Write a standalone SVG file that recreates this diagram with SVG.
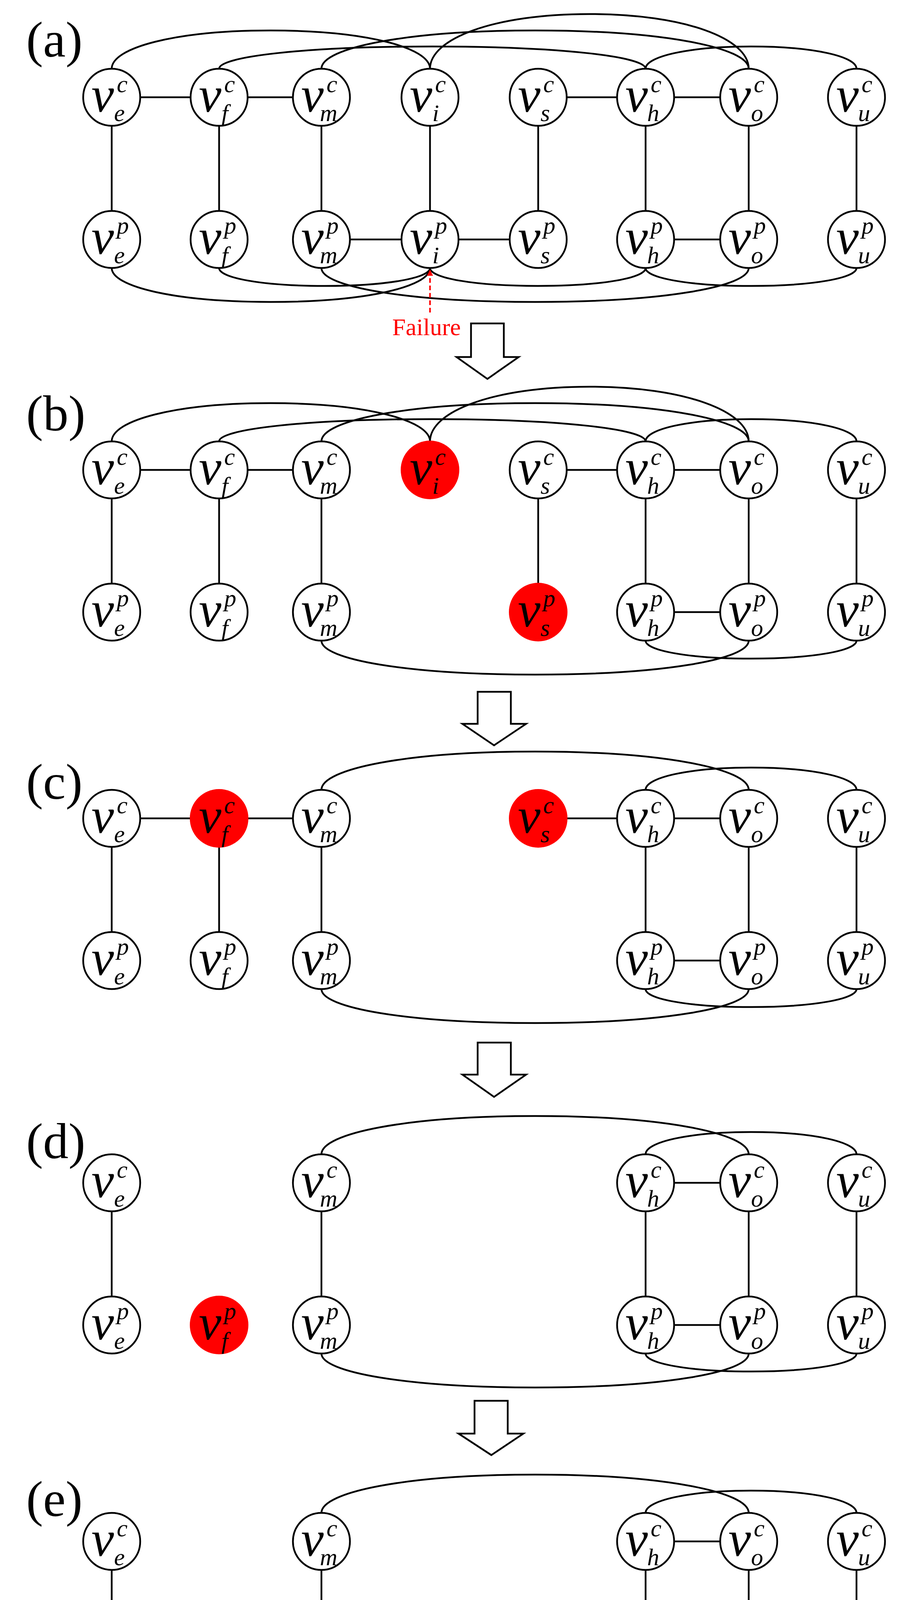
<svg xmlns="http://www.w3.org/2000/svg" width="2330" height="4511" viewBox="0 0 2330 4511">
<style>
.node circle{fill:#fff;stroke:#000;stroke-width:4.5}
.node.red circle{fill:#f00;stroke:none}
.v{font-family:"Liberation Serif",serif;font-style:italic;font-size:130px;fill:#000}
.s{font-family:"Liberation Serif",serif;font-style:italic;font-size:62px;fill:#000}
.lbl{font-family:"Liberation Serif",serif;font-size:130px;fill:#000}
.e{fill:none;stroke:#000;stroke-width:4.5}
.blk{fill:#fff;stroke:#000;stroke-width:4.5;stroke-linejoin:miter}
</style>
<defs>
<marker id="ah" viewBox="0 0 10 10" refX="9" refY="5" markerWidth="4" markerHeight="4" orient="auto" markerUnits="strokeWidth"><path d="M0,0 L10,5 L0,10 Z" fill="#f00"/></marker>
</defs>
<rect width="2330" height="4511" fill="#fff"/>

<g id="labels">
<text class="lbl" x="67" y="145">(a)</text>
<text class="lbl" x="67" y="1102">(b)</text>
<text class="lbl" x="67" y="2045">(c)</text>
<text class="lbl" x="67" y="2965">(d)</text>
<text class="lbl" x="67" y="3881">(e)</text>
</g>

<g id="connectors">
<g id="conn-a">
<line class="e" x1="359" y1="249" x2="488" y2="249"/><line class="e" x1="634" y1="249" x2="750" y2="249"/><line class="e" x1="1451" y1="249" x2="1580" y2="249"/><line class="e" x1="1726" y1="249" x2="1844" y2="249"/>
<line class="e" x1="896" y1="613" x2="1028" y2="613"/><line class="e" x1="1174" y1="613" x2="1305" y2="613"/><line class="e" x1="1726" y1="613" x2="1844" y2="613"/>
<line class="e" x1="286" y1="322" x2="286" y2="540"/><line class="e" x1="561" y1="322" x2="561" y2="540"/><line class="e" x1="823" y1="322" x2="823" y2="540"/><line class="e" x1="1101" y1="322" x2="1101" y2="540"/><line class="e" x1="1378" y1="322" x2="1378" y2="540"/><line class="e" x1="1653" y1="322" x2="1653" y2="540"/><line class="e" x1="1917" y1="322" x2="1917" y2="540"/><line class="e" x1="2193" y1="322" x2="2193" y2="540"/>
<path class="e" d="M286 176 C286 122 449 78 693 78 S1101 122 1101 176"/>
<path class="e" d="M561 176 C561 145 779 119 1107 119 S1653 145 1653 176"/>
<path class="e" d="M823 176 C823 122 1042 78 1370 78 S1917 122 1917 176"/>
<path class="e" d="M1101 176 C1101 99 1264 36 1509 36 S1917 99 1917 176"/>
<path class="e" d="M1653 176 C1653 145 1761 119 1923 119 S2193 145 2193 176"/>
<path class="e" d="M286 686 C286 734 449 773 693 773 S1101 734 1101 686"/>
<path class="e" d="M561 686 C561 711 669 732 831 732 S1101 711 1101 686"/>
<path class="e" d="M823 686 C823 734 1042 773 1370 773 S1917 734 1917 686"/>
<path class="e" d="M1101 686 C1101 711 1211 732 1377 732 S1653 711 1653 686"/>
<path class="e" d="M1653 686 C1653 711 1761 732 1923 732 S2193 711 2193 686"/>
<line x1="1101" y1="800" x2="1101" y2="692" stroke="#f00" stroke-width="4" stroke-dasharray="12 7" marker-end="url(#ah)"/>
</g>
<g id="conn-b" transform="translate(0,954)">
<line class="e" x1="359" y1="249" x2="488" y2="249"/><line class="e" x1="634" y1="249" x2="750" y2="249"/><line class="e" x1="1451" y1="249" x2="1580" y2="249"/><line class="e" x1="1726" y1="249" x2="1844" y2="249"/>
<line class="e" x1="1726" y1="613" x2="1844" y2="613"/>
<line class="e" x1="286" y1="322" x2="286" y2="540"/><line class="e" x1="561" y1="322" x2="561" y2="540"/><line class="e" x1="823" y1="322" x2="823" y2="540"/><line class="e" x1="1378" y1="322" x2="1378" y2="540"/><line class="e" x1="1653" y1="322" x2="1653" y2="540"/><line class="e" x1="1917" y1="322" x2="1917" y2="540"/><line class="e" x1="2193" y1="322" x2="2193" y2="540"/>
<path class="e" d="M286 176 C286 122 449 78 693 78 S1101 122 1101 176"/>
<path class="e" d="M561 176 C561 145 779 119 1107 119 S1653 145 1653 176"/>
<path class="e" d="M823 176 C823 122 1042 78 1370 78 S1917 122 1917 176"/>
<path class="e" d="M1101 176 C1101 99 1264 36 1509 36 S1917 99 1917 176"/>
<path class="e" d="M1653 176 C1653 145 1761 119 1923 119 S2193 145 2193 176"/>
<path class="e" d="M823 686 C823 734 1042 773 1370 773 S1917 734 1917 686"/>
<path class="e" d="M1653 686 C1653 711 1761 732 1923 732 S2193 711 2193 686"/>
</g>
<g id="conn-c" transform="translate(0,1846)">
<line class="e" x1="359" y1="249" x2="488" y2="249"/><line class="e" x1="634" y1="249" x2="750" y2="249"/><line class="e" x1="1451" y1="249" x2="1580" y2="249"/><line class="e" x1="1726" y1="249" x2="1844" y2="249"/>
<line class="e" x1="1726" y1="613" x2="1844" y2="613"/>
<line class="e" x1="286" y1="322" x2="286" y2="540"/><line class="e" x1="561" y1="322" x2="561" y2="540"/><line class="e" x1="823" y1="322" x2="823" y2="540"/><line class="e" x1="1653" y1="322" x2="1653" y2="540"/><line class="e" x1="1917" y1="322" x2="1917" y2="540"/><line class="e" x1="2193" y1="322" x2="2193" y2="540"/>
<path class="e" d="M823 176 C823 122 1042 78 1370 78 S1917 122 1917 176"/>
<path class="e" d="M1653 176 C1653 145 1761 119 1923 119 S2193 145 2193 176"/>
<path class="e" d="M823 686 C823 734 1042 773 1370 773 S1917 734 1917 686"/>
<path class="e" d="M1653 686 C1653 711 1761 732 1923 732 S2193 711 2193 686"/>
</g>
<g id="conn-d" transform="translate(0,2779)">
<line class="e" x1="1726" y1="249" x2="1844" y2="249"/><line class="e" x1="1726" y1="613" x2="1844" y2="613"/>
<line class="e" x1="286" y1="322" x2="286" y2="540"/><line class="e" x1="823" y1="322" x2="823" y2="540"/><line class="e" x1="1653" y1="322" x2="1653" y2="540"/><line class="e" x1="1917" y1="322" x2="1917" y2="540"/><line class="e" x1="2193" y1="322" x2="2193" y2="540"/>
<path class="e" d="M823 176 C823 122 1042 78 1370 78 S1917 122 1917 176"/>
<path class="e" d="M1653 176 C1653 145 1761 119 1923 119 S2193 145 2193 176"/>
<path class="e" d="M823 686 C823 734 1042 773 1370 773 S1917 734 1917 686"/>
<path class="e" d="M1653 686 C1653 711 1761 732 1923 732 S2193 711 2193 686"/>
</g>
<g id="conn-e" transform="translate(0,3697)">
<line class="e" x1="1726" y1="249" x2="1844" y2="249"/><line class="e" x1="1726" y1="613" x2="1844" y2="613"/>
<line class="e" x1="286" y1="322" x2="286" y2="540"/><line class="e" x1="823" y1="322" x2="823" y2="540"/><line class="e" x1="1653" y1="322" x2="1653" y2="540"/><line class="e" x1="1917" y1="322" x2="1917" y2="540"/><line class="e" x1="2193" y1="322" x2="2193" y2="540"/>
<path class="e" d="M823 176 C823 122 1042 78 1370 78 S1917 122 1917 176"/>
<path class="e" d="M1653 176 C1653 145 1761 119 1923 119 S2193 145 2193 176"/>
<path class="e" d="M823 686 C823 734 1042 773 1370 773 S1917 734 1917 686"/>
<path class="e" d="M1653 686 C1653 711 1761 732 1923 732 S2193 711 2193 686"/>
</g>
</g>

<text x="1092" y="858" font-family="Liberation Serif, serif" font-size="62" fill="#f00" text-anchor="middle">Failure</text>

<g id="step-arrows">
<path class="blk" d="M1206 828 H1290 V914 H1328 L1248 970 L1169 914 H1206 Z"/>
<path class="blk" d="M1223 1771 H1308 V1853 H1347 L1265 1908 L1184 1853 H1223 Z"/>
<path class="blk" d="M1223 2669 H1308 V2751 H1347 L1265 2808 L1184 2751 H1223 Z"/>
<path class="blk" d="M1215 3586 H1300 V3670 H1340 L1258 3725 L1174 3670 H1215 Z"/>
</g>

<g id="nodes-a">
<g id="a-ve-c" class="node"><circle cx="286" cy="249" r="73"/><text class="v" x="234" y="286">v</text><text class="s" x="299" y="236">c</text><text class="s" x="292" y="310">e</text></g>
<g id="a-vf-c" class="node"><circle cx="561" cy="249" r="73"/><text class="v" x="509" y="286">v</text><text class="s" x="574" y="236">c</text><text class="s" x="567" y="310">f</text></g>
<g id="a-vm-c" class="node"><circle cx="823" cy="249" r="73"/><text class="v" x="771" y="286">v</text><text class="s" x="836" y="236">c</text><text class="s" x="819" y="310">m</text></g>
<g id="a-vi-c" class="node"><circle cx="1101" cy="249" r="73"/><text class="v" x="1049" y="286">v</text><text class="s" x="1114" y="236">c</text><text class="s" x="1107" y="310">i</text></g>
<g id="a-vs-c" class="node"><circle cx="1378" cy="249" r="73"/><text class="v" x="1326" y="286">v</text><text class="s" x="1391" y="236">c</text><text class="s" x="1384" y="310">s</text></g>
<g id="a-vh-c" class="node"><circle cx="1653" cy="249" r="73"/><text class="v" x="1601" y="286">v</text><text class="s" x="1666" y="236">c</text><text class="s" x="1657" y="310">h</text></g>
<g id="a-vo-c" class="node"><circle cx="1917" cy="249" r="73"/><text class="v" x="1865" y="286">v</text><text class="s" x="1930" y="236">c</text><text class="s" x="1923" y="310">o</text></g>
<g id="a-vu-c" class="node"><circle cx="2193" cy="249" r="73"/><text class="v" x="2141" y="286">v</text><text class="s" x="2206" y="236">c</text><text class="s" x="2197" y="310">u</text></g>
<g id="a-ve-p" class="node"><circle cx="286" cy="613" r="73"/><text class="v" x="234" y="650">v</text><text class="s" x="299" y="598">p</text><text class="s" x="292" y="674">e</text></g>
<g id="a-vf-p" class="node"><circle cx="561" cy="613" r="73"/><text class="v" x="509" y="650">v</text><text class="s" x="574" y="598">p</text><text class="s" x="567" y="674">f</text></g>
<g id="a-vm-p" class="node"><circle cx="823" cy="613" r="73"/><text class="v" x="771" y="650">v</text><text class="s" x="836" y="598">p</text><text class="s" x="819" y="674">m</text></g>
<g id="a-vi-p" class="node"><circle cx="1101" cy="613" r="73"/><text class="v" x="1049" y="650">v</text><text class="s" x="1114" y="598">p</text><text class="s" x="1107" y="674">i</text></g>
<g id="a-vs-p" class="node"><circle cx="1378" cy="613" r="73"/><text class="v" x="1326" y="650">v</text><text class="s" x="1391" y="598">p</text><text class="s" x="1384" y="674">s</text></g>
<g id="a-vh-p" class="node"><circle cx="1653" cy="613" r="73"/><text class="v" x="1601" y="650">v</text><text class="s" x="1666" y="598">p</text><text class="s" x="1657" y="674">h</text></g>
<g id="a-vo-p" class="node"><circle cx="1917" cy="613" r="73"/><text class="v" x="1865" y="650">v</text><text class="s" x="1930" y="598">p</text><text class="s" x="1923" y="674">o</text></g>
<g id="a-vu-p" class="node"><circle cx="2193" cy="613" r="73"/><text class="v" x="2141" y="650">v</text><text class="s" x="2206" y="598">p</text><text class="s" x="2197" y="674">u</text></g>
</g>

<g id="nodes-b" transform="translate(0,954)">
<g id="b-ve-c" class="node"><circle cx="286" cy="249" r="73"/><text class="v" x="234" y="286">v</text><text class="s" x="299" y="236">c</text><text class="s" x="292" y="310">e</text></g>
<g id="b-vf-c" class="node"><circle cx="561" cy="249" r="73"/><text class="v" x="509" y="286">v</text><text class="s" x="574" y="236">c</text><text class="s" x="567" y="310">f</text></g>
<g id="b-vm-c" class="node"><circle cx="823" cy="249" r="73"/><text class="v" x="771" y="286">v</text><text class="s" x="836" y="236">c</text><text class="s" x="819" y="310">m</text></g>
<g id="b-vi-c" class="node red"><circle cx="1101" cy="249" r="75"/><text class="v" x="1049" y="286">v</text><text class="s" x="1114" y="236">c</text><text class="s" x="1107" y="310">i</text></g>
<g id="b-vs-c" class="node"><circle cx="1378" cy="249" r="73"/><text class="v" x="1326" y="286">v</text><text class="s" x="1391" y="236">c</text><text class="s" x="1384" y="310">s</text></g>
<g id="b-vh-c" class="node"><circle cx="1653" cy="249" r="73"/><text class="v" x="1601" y="286">v</text><text class="s" x="1666" y="236">c</text><text class="s" x="1657" y="310">h</text></g>
<g id="b-vo-c" class="node"><circle cx="1917" cy="249" r="73"/><text class="v" x="1865" y="286">v</text><text class="s" x="1930" y="236">c</text><text class="s" x="1923" y="310">o</text></g>
<g id="b-vu-c" class="node"><circle cx="2193" cy="249" r="73"/><text class="v" x="2141" y="286">v</text><text class="s" x="2206" y="236">c</text><text class="s" x="2197" y="310">u</text></g>
<g id="b-ve-p" class="node"><circle cx="286" cy="613" r="73"/><text class="v" x="234" y="650">v</text><text class="s" x="299" y="598">p</text><text class="s" x="292" y="674">e</text></g>
<g id="b-vf-p" class="node"><circle cx="561" cy="613" r="73"/><text class="v" x="509" y="650">v</text><text class="s" x="574" y="598">p</text><text class="s" x="567" y="674">f</text></g>
<g id="b-vm-p" class="node"><circle cx="823" cy="613" r="73"/><text class="v" x="771" y="650">v</text><text class="s" x="836" y="598">p</text><text class="s" x="819" y="674">m</text></g>
<g id="b-vs-p" class="node red"><circle cx="1378" cy="613" r="75"/><text class="v" x="1326" y="650">v</text><text class="s" x="1391" y="598">p</text><text class="s" x="1384" y="674">s</text></g>
<g id="b-vh-p" class="node"><circle cx="1653" cy="613" r="73"/><text class="v" x="1601" y="650">v</text><text class="s" x="1666" y="598">p</text><text class="s" x="1657" y="674">h</text></g>
<g id="b-vo-p" class="node"><circle cx="1917" cy="613" r="73"/><text class="v" x="1865" y="650">v</text><text class="s" x="1930" y="598">p</text><text class="s" x="1923" y="674">o</text></g>
<g id="b-vu-p" class="node"><circle cx="2193" cy="613" r="73"/><text class="v" x="2141" y="650">v</text><text class="s" x="2206" y="598">p</text><text class="s" x="2197" y="674">u</text></g>
</g>

<g id="nodes-c" transform="translate(0,1846)">
<g id="c-ve-c" class="node"><circle cx="286" cy="249" r="73"/><text class="v" x="234" y="286">v</text><text class="s" x="299" y="236">c</text><text class="s" x="292" y="310">e</text></g>
<g id="c-vf-c" class="node red"><circle cx="561" cy="249" r="75"/><text class="v" x="509" y="286">v</text><text class="s" x="574" y="236">c</text><text class="s" x="567" y="310">f</text></g>
<g id="c-vm-c" class="node"><circle cx="823" cy="249" r="73"/><text class="v" x="771" y="286">v</text><text class="s" x="836" y="236">c</text><text class="s" x="819" y="310">m</text></g>
<g id="c-vs-c" class="node red"><circle cx="1378" cy="249" r="75"/><text class="v" x="1326" y="286">v</text><text class="s" x="1391" y="236">c</text><text class="s" x="1384" y="310">s</text></g>
<g id="c-vh-c" class="node"><circle cx="1653" cy="249" r="73"/><text class="v" x="1601" y="286">v</text><text class="s" x="1666" y="236">c</text><text class="s" x="1657" y="310">h</text></g>
<g id="c-vo-c" class="node"><circle cx="1917" cy="249" r="73"/><text class="v" x="1865" y="286">v</text><text class="s" x="1930" y="236">c</text><text class="s" x="1923" y="310">o</text></g>
<g id="c-vu-c" class="node"><circle cx="2193" cy="249" r="73"/><text class="v" x="2141" y="286">v</text><text class="s" x="2206" y="236">c</text><text class="s" x="2197" y="310">u</text></g>
<g id="c-ve-p" class="node"><circle cx="286" cy="613" r="73"/><text class="v" x="234" y="650">v</text><text class="s" x="299" y="598">p</text><text class="s" x="292" y="674">e</text></g>
<g id="c-vf-p" class="node"><circle cx="561" cy="613" r="73"/><text class="v" x="509" y="650">v</text><text class="s" x="574" y="598">p</text><text class="s" x="567" y="674">f</text></g>
<g id="c-vm-p" class="node"><circle cx="823" cy="613" r="73"/><text class="v" x="771" y="650">v</text><text class="s" x="836" y="598">p</text><text class="s" x="819" y="674">m</text></g>
<g id="c-vh-p" class="node"><circle cx="1653" cy="613" r="73"/><text class="v" x="1601" y="650">v</text><text class="s" x="1666" y="598">p</text><text class="s" x="1657" y="674">h</text></g>
<g id="c-vo-p" class="node"><circle cx="1917" cy="613" r="73"/><text class="v" x="1865" y="650">v</text><text class="s" x="1930" y="598">p</text><text class="s" x="1923" y="674">o</text></g>
<g id="c-vu-p" class="node"><circle cx="2193" cy="613" r="73"/><text class="v" x="2141" y="650">v</text><text class="s" x="2206" y="598">p</text><text class="s" x="2197" y="674">u</text></g>
</g>

<g id="nodes-d" transform="translate(0,2779)">
<g id="d-ve-c" class="node"><circle cx="286" cy="249" r="73"/><text class="v" x="234" y="286">v</text><text class="s" x="299" y="236">c</text><text class="s" x="292" y="310">e</text></g>
<g id="d-vm-c" class="node"><circle cx="823" cy="249" r="73"/><text class="v" x="771" y="286">v</text><text class="s" x="836" y="236">c</text><text class="s" x="819" y="310">m</text></g>
<g id="d-vh-c" class="node"><circle cx="1653" cy="249" r="73"/><text class="v" x="1601" y="286">v</text><text class="s" x="1666" y="236">c</text><text class="s" x="1657" y="310">h</text></g>
<g id="d-vo-c" class="node"><circle cx="1917" cy="249" r="73"/><text class="v" x="1865" y="286">v</text><text class="s" x="1930" y="236">c</text><text class="s" x="1923" y="310">o</text></g>
<g id="d-vu-c" class="node"><circle cx="2193" cy="249" r="73"/><text class="v" x="2141" y="286">v</text><text class="s" x="2206" y="236">c</text><text class="s" x="2197" y="310">u</text></g>
<g id="d-ve-p" class="node"><circle cx="286" cy="613" r="73"/><text class="v" x="234" y="650">v</text><text class="s" x="299" y="598">p</text><text class="s" x="292" y="674">e</text></g>
<g id="d-vf-p" class="node red"><circle cx="561" cy="613" r="75"/><text class="v" x="509" y="650">v</text><text class="s" x="574" y="598">p</text><text class="s" x="567" y="674">f</text></g>
<g id="d-vm-p" class="node"><circle cx="823" cy="613" r="73"/><text class="v" x="771" y="650">v</text><text class="s" x="836" y="598">p</text><text class="s" x="819" y="674">m</text></g>
<g id="d-vh-p" class="node"><circle cx="1653" cy="613" r="73"/><text class="v" x="1601" y="650">v</text><text class="s" x="1666" y="598">p</text><text class="s" x="1657" y="674">h</text></g>
<g id="d-vo-p" class="node"><circle cx="1917" cy="613" r="73"/><text class="v" x="1865" y="650">v</text><text class="s" x="1930" y="598">p</text><text class="s" x="1923" y="674">o</text></g>
<g id="d-vu-p" class="node"><circle cx="2193" cy="613" r="73"/><text class="v" x="2141" y="650">v</text><text class="s" x="2206" y="598">p</text><text class="s" x="2197" y="674">u</text></g>
</g>

<g id="nodes-e" transform="translate(0,3697)">
<g id="e-ve-c" class="node"><circle cx="286" cy="249" r="73"/><text class="v" x="234" y="286">v</text><text class="s" x="299" y="236">c</text><text class="s" x="292" y="310">e</text></g>
<g id="e-vm-c" class="node"><circle cx="823" cy="249" r="73"/><text class="v" x="771" y="286">v</text><text class="s" x="836" y="236">c</text><text class="s" x="819" y="310">m</text></g>
<g id="e-vh-c" class="node"><circle cx="1653" cy="249" r="73"/><text class="v" x="1601" y="286">v</text><text class="s" x="1666" y="236">c</text><text class="s" x="1657" y="310">h</text></g>
<g id="e-vo-c" class="node"><circle cx="1917" cy="249" r="73"/><text class="v" x="1865" y="286">v</text><text class="s" x="1930" y="236">c</text><text class="s" x="1923" y="310">o</text></g>
<g id="e-vu-c" class="node"><circle cx="2193" cy="249" r="73"/><text class="v" x="2141" y="286">v</text><text class="s" x="2206" y="236">c</text><text class="s" x="2197" y="310">u</text></g>
<g id="e-ve-p" class="node"><circle cx="286" cy="613" r="73"/><text class="v" x="234" y="650">v</text><text class="s" x="299" y="598">p</text><text class="s" x="292" y="674">e</text></g>
<g id="e-vm-p" class="node"><circle cx="823" cy="613" r="73"/><text class="v" x="771" y="650">v</text><text class="s" x="836" y="598">p</text><text class="s" x="819" y="674">m</text></g>
<g id="e-vh-p" class="node"><circle cx="1653" cy="613" r="73"/><text class="v" x="1601" y="650">v</text><text class="s" x="1666" y="598">p</text><text class="s" x="1657" y="674">h</text></g>
<g id="e-vo-p" class="node"><circle cx="1917" cy="613" r="73"/><text class="v" x="1865" y="650">v</text><text class="s" x="1930" y="598">p</text><text class="s" x="1923" y="674">o</text></g>
<g id="e-vu-p" class="node"><circle cx="2193" cy="613" r="73"/><text class="v" x="2141" y="650">v</text><text class="s" x="2206" y="598">p</text><text class="s" x="2197" y="674">u</text></g>
</g>
</svg>
